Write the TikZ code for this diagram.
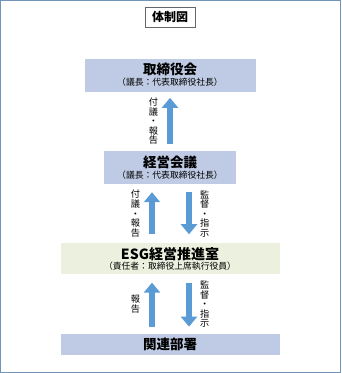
\documentclass[tikz,border=0pt]{standalone}
\usepackage{fontspec}
\setmainfont{Noto Sans CJK JP}
\usepackage{xcolor}
\usetikzlibrary{arrows.meta,positioning}

\definecolor{framecol}{HTML}{7094BA}
\definecolor{bluebox}{HTML}{BFCBE4}
\definecolor{greenbox}{HTML}{EBF1DE}
\definecolor{arrcol}{HTML}{5B9BD5}

\begin{document}
\begin{tikzpicture}[x=1pt, y=1pt, node distance=59pt, every node/.style={inner sep=1pt}]
        \tikzset{
            titlebox/.style={draw=gray!80!black, line width=0.9pt, minimum width=50pt, minimum height=20pt, font=\fontsize{12}{14}\selectfont\bfseries},
            box/.style={fill=bluebox, align=center, minimum height=33pt},
            vlab/.style={align=center, inner sep=0pt, font=\fontsize{9.2}{9.6}\selectfont},
            arr/.style={draw=arrcol, line width=6pt, -{Triangle[width=16pt, length=10pt]}}
        }

        \useasboundingbox (0,0) rectangle (341,373);
        \draw[framecol, line width=1.4pt] (0.7,0.7) rectangle (340.3,372.3);

        \node[titlebox] (title) at (170,356) {体制図};
        \node[box, minimum width=171pt, below=31pt of title] (board)
            {{\fontsize{13.5}{17}\selectfont\bfseries 取締役会}\\[-1pt]{\fontsize{8.8}{10}\selectfont （議長：代表取締役社長）}};
        \node[box, minimum width=132pt, below=of board] (mgmt)
            {{\fontsize{13.5}{17}\selectfont\bfseries 経営会議}\\[-1pt]{\fontsize{8.8}{10}\selectfont （議長：代表取締役社長）}};
        \node[box, fill=greenbox, minimum width=219pt, minimum height=31pt, below=of mgmt] (esg)
            {{\fontsize{14}{17}\selectfont\bfseries ESG経営推進室}\\[-2pt]{\fontsize{8.8}{10}\selectfont （責任者：取締役上席執行役員）}};
        \node[box, minimum width=219pt, minimum height=21pt, below=of esg] (dept)
            {{\fontsize{13.5}{15}\selectfont\bfseries 関連部署}};

        % board <- mgmt
        \draw[arr, shorten <=7pt, shorten >=6pt] (mgmt.north) --
            node[vlab, left=9pt]{付\\議\\・\\報\\告} (board.south);

        % mgmt <-> esg
        \draw[arr, shorten <=9pt, shorten >=8pt] ([xshift=-18pt]esg.north) --
            node[vlab, left=9pt]{付\\議\\・\\報\\告} ([xshift=-18pt]mgmt.south);
        \draw[arr, shorten <=8pt, shorten >=9pt] ([xshift=19pt]mgmt.south) --
            node[vlab, right=8pt]{監\\督\\・\\指\\示} ([xshift=19pt]esg.north);

        % esg <-> dept
        \draw[arr, shorten <=7pt, shorten >=8pt] ([xshift=-18pt]dept.north) --
            node[vlab, left=9pt]{報\\告} ([xshift=-18pt]esg.south);
        \draw[arr, shorten <=8pt, shorten >=7pt] ([xshift=19pt]esg.south) --
            node[vlab, right=8pt]{監\\督\\・\\指\\示} ([xshift=19pt]dept.north);
    \end{tikzpicture}
\end{document}
